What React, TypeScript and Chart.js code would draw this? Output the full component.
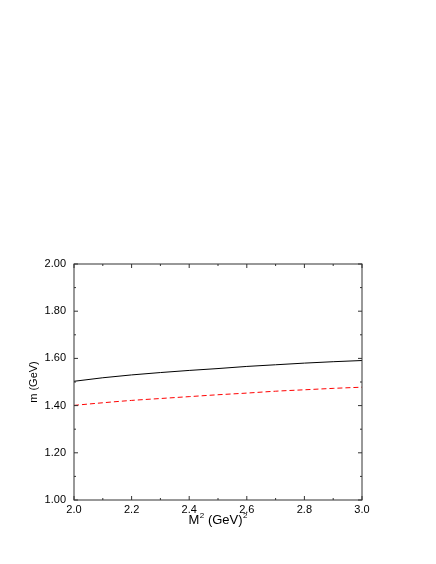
import React, { useEffect, useRef } from "react";
import { Chart, registerables } from "chart.js";

Chart.register(...registerables);

const xValues = [2.0, 2.1, 2.2, 2.3, 2.4, 2.5, 2.6, 2.7, 2.8, 2.9, 3.0];
const solidSeries = [1.503, 1.518, 1.530, 1.540, 1.549, 1.557, 1.566, 1.573, 1.580, 1.586, 1.591];
const dashedSeries = [1.401, 1.412, 1.422, 1.430, 1.438, 1.446, 1.453, 1.461, 1.467, 1.473, 1.478];
const xTickValues = [2.0, 2.2, 2.4, 2.6, 2.8, 3.0];
const yTickValues = [1.0, 1.2, 1.4, 1.6, 1.8, 2.0];
const xMinorValues = [2.1, 2.3, 2.5, 2.7, 2.9];
const yMinorValues = [1.1, 1.3, 1.5, 1.7, 1.9];
// x title pieces: [text, isSuperscript]
const xTitleParts: [string, boolean][] = [
  ["M", false],
  ["2", true],
  [" (GeV)", false],
  ["2", true],
];
const yTitle = "m (GeV)";

const frameColor = "#333333";
const fontFamily = "'Liberation Sans', Arial, sans-serif";

const framePlugin = {
  id: "frameTicks",
  afterDatasetsDraw(chart: any) {
    const { ctx, chartArea } = chart;
    const { left, right, top, bottom } = chartArea;
    const xs = chart.scales.x;
    const ys = chart.scales.y;
    ctx.save();
    ctx.strokeStyle = frameColor;
    ctx.lineWidth = 1;
    ctx.strokeRect(left, top, right - left, bottom - top);
    const major = 4;
    const minor = 2;
    ctx.beginPath();
    const xTick = (v: number, len: number) => {
      const px = xs.getPixelForValue(v);
      ctx.moveTo(px, bottom);
      ctx.lineTo(px, bottom - len);
      ctx.moveTo(px, top);
      ctx.lineTo(px, top + len);
    };
    const yTick = (v: number, len: number) => {
      const py = ys.getPixelForValue(v);
      ctx.moveTo(left, py);
      ctx.lineTo(left + len, py);
      ctx.moveTo(right, py);
      ctx.lineTo(right - len, py);
    };
    xTickValues.forEach((v) => xTick(v, major));
    xMinorValues.forEach((v) => xTick(v, minor));
    yTickValues.forEach((v) => yTick(v, major));
    yMinorValues.forEach((v) => yTick(v, minor));
    ctx.stroke();

    // x axis title with superscripts
    const mainFont = `13px ${fontFamily}`;
    const supFont = `8px ${fontFamily}`;
    let total = 0;
    const widths = xTitleParts.map(([t, sup]) => {
      ctx.font = sup ? supFont : mainFont;
      const w = ctx.measureText(t).width + (sup ? 0.5 : 0);
      total += w;
      return w;
    });
    let x = (left + right) / 2 - total / 2;
    const baseline = bottom + 24;
    ctx.fillStyle = "#000";
    ctx.textBaseline = "alphabetic";
    ctx.textAlign = "left";
    xTitleParts.forEach(([t, sup], i) => {
      ctx.font = sup ? supFont : mainFont;
      ctx.fillText(t, x + (sup ? 0.5 : 0), sup ? baseline - 6 : baseline);
      x += widths[i];
    });
    ctx.restore();
  },
};

export default function App() {
  const canvasRef = useRef<HTMLCanvasElement>(null);

  useEffect(() => {
    if (!canvasRef.current) return;
    const font = { family: fontFamily, size: 11 };
    const chart = new Chart(canvasRef.current, {
      type: "line",
      data: {
        datasets: [
          {
            data: xValues.map((x, i) => ({ x, y: solidSeries[i] })),
            borderColor: "#000000",
            borderWidth: 1,
            pointRadius: 0,
            fill: false,
            cubicInterpolationMode: "monotone",
          },
          {
            data: xValues.map((x, i) => ({ x, y: dashedSeries[i] })),
            borderColor: "#ff0000",
            borderWidth: 1,
            borderDash: [5, 3],
            pointRadius: 0,
            fill: false,
            cubicInterpolationMode: "monotone",
          },
        ],
      },
      options: {
        animation: false,
        responsive: false,
        devicePixelRatio: 1,
        layout: { padding: { top: 264, right: 74, left: 0, bottom: 0 } },
        plugins: {
          legend: { display: false },
          tooltip: { enabled: false },
        },
        scales: {
          x: {
            type: "linear",
            min: 2,
            max: 3,
            afterFit: (s: any) => {
              s.height = 64;
            },
            afterBuildTicks: (s: any) => {
              s.ticks = xTickValues.map((v) => ({ value: v }));
            },
            ticks: {
              color: "#000",
              font,
              padding: 3,
              maxRotation: 0,
              autoSkip: false,
              callback: (v: any) => Number(v).toFixed(1),
            },
            grid: { display: false, drawTicks: false },
            border: { display: false },
            title: { display: false },
          },
          y: {
            type: "linear",
            min: 1,
            max: 2,
            afterFit: (s: any) => {
              s.width = 74;
            },
            afterBuildTicks: (s: any) => {
              s.ticks = yTickValues.map((v) => ({ value: v }));
            },
            ticks: {
              color: "#000",
              font,
              padding: 8,
              autoSkip: false,
              callback: (v: any) => Number(v).toFixed(2),
            },
            grid: { display: false, drawTicks: false },
            border: { display: false },
            title: {
              display: true,
              text: yTitle,
              color: "#000",
              font,
              padding: { top: 27, bottom: 0 },
            },
          },
        },
      },
      plugins: [framePlugin],
    });
    return () => chart.destroy();
  }, []);

  return (
    <div style={{ position: "fixed", left: 0, top: 0, width: 436, height: 564, background: "#fff" }}>
      <canvas ref={canvasRef} width={436} height={564} style={{ display: "block" }} />
    </div>
  );
}
